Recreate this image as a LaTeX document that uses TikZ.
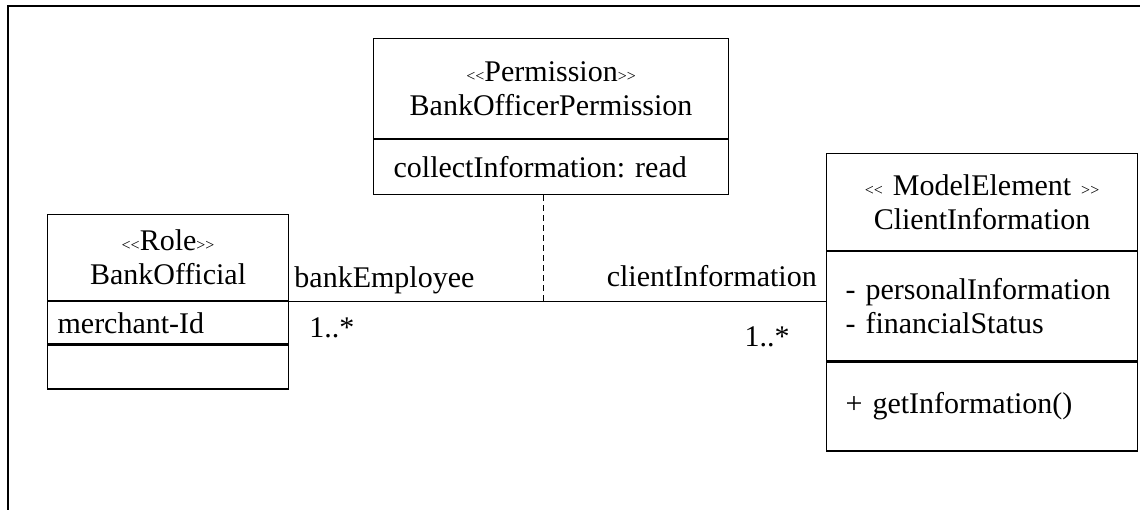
\documentclass[tikz,border=0pt]{standalone}
\usepackage{fontspec}
\setmainfont{Liberation Serif}
\frenchspacing
\usetikzlibrary{positioning, calc}
\definecolor{ink}{HTML}{000000}
\newcommand\stereo[1]{{\fontsize{12}{12}\selectfont<\kern0pt<}#1{\fontsize{12}{12}\selectfont>\kern0pt>}}
\tikzset{
  font=\fontsize{22.5}{25.5}\selectfont,
  %
  frame/.style={draw=ink, line width=0.9pt},
  part/.style={draw=ink, line width=0.9pt, inner sep=0pt, text=ink},
  head/.style={part, align=center},
  compart/.style={part, align=left},
  %
  assoc/.style={draw=ink, line width=0.9pt},
  attach/.style={draw=ink, line width=0.9pt, dash pattern=on 4.5pt off 3pt},
  lbl/.style={text=ink, inner sep=0pt},
}
\begin{document}
\begin{tikzpicture}[x=0.75pt, y=-0.75pt]
\useasboundingbox (0,0) rectangle (1140,510);
\draw[frame] (8,510) -- (8,6) -- (1140,6);

% permission class
\node[head, anchor=north west, text width=266.25pt, minimum height=75pt]
  (perm-head) at (373,38) {\stereo{Permission}\\BankOfficerPermission};
\node[compart, text width=236.25pt, inner xsep=15pt, minimum height=41.25pt,
  below=0pt of perm-head] (perm-attr) {collectInformation: read};

% role class
\node[head, anchor=north west, text width=180.75pt, minimum height=64.5pt]
  (role-head) at (47,214) {\stereo{Role}\\BankOfficial};
\node[compart, text width=165.75pt, inner xsep=7.5pt, minimum height=31.5pt,
  below=0pt of role-head] (role-attr) {merchant-Id};
\node[part, minimum width=180.75pt, minimum height=33pt,
  below=0pt of role-attr] (role-ops) {};

% model element class
\node[head, anchor=north west, text width=233.25pt, minimum height=72.75pt]
  (client-head) at (826,153) {\stereo{ ModelElement }\\ClientInformation};
\node[compart, text width=204.75pt, inner xsep=14.25pt, minimum height=81.75pt,
  below=0pt of client-head] (client-attr) {- personalInformation\\- financialStatus};
\node[compart, text width=204.75pt, inner xsep=14.25pt, minimum height=66.75pt,
  below=0pt of client-attr] (client-ops) {+ getInformation()};

% association and its class
\coordinate (client-end) at (role-head.south east -| client-attr.west);
\coordinate (assoc-mid) at ($(role-head.south east)!0.474!(client-end)$);
\draw[assoc] (role-head.south east) -- (client-end);
\draw[attach] (perm-attr.south -| assoc-mid) -- (assoc-mid);

\node[lbl, anchor=base west] (role-name) at ([xshift=3.75pt, yshift=10.5pt]role-head.south east) {bankEmployee};
\node[lbl, anchor=base west] (role-mult) at ([xshift=15pt, yshift=-27pt]role-head.south east) {1..*};
\node[lbl, anchor=base east] (client-name) at ([xshift=-6.75pt, yshift=11.25pt]client-end) {clientInformation};
\node[lbl, anchor=base east] (client-mult) at ([xshift=-27pt, yshift=-33.75pt]client-end) {1..*};
\end{tikzpicture}
\end{document}
